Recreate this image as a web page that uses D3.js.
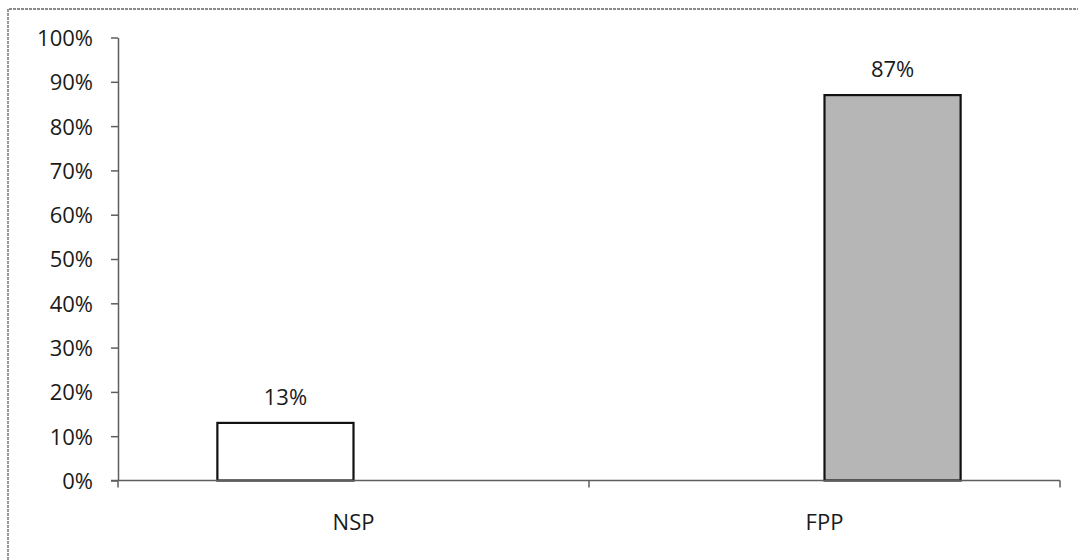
<!DOCTYPE html>
<html>
<head>
<meta charset="utf-8">
<script src="https://cdn.jsdelivr.net/npm/d3@7"></script>
<style>
  html, body { margin: 0; padding: 0; background: #fff; }
  svg { display: block; font-family: "Open Sans", sans-serif; }
  .axis path, .axis line { stroke: #5e5e5e; stroke-width: 1.5; }
  .axis text { fill: #1a1a1a; font-size: 22px; font-family: "Open Sans", sans-serif; }
</style>
</head>
<body>
<svg id="chart" width="1078" height="560"></svg>
<script>
// Categories along the x axis
const categories = ["NSP", "FPP"];
// Two series, each with a value only in its own category
const seriesNames = ["NSP", "FPP"];
const nspValues = [13, 0];
const fppValues = [0, 87];
const seriesFill = ["#ffffff", "#b6b6b6"];
// Y axis tick values (percent)
const yTicks = [0, 10, 20, 30, 40, 50, 60, 70, 80, 90, 100];

const svg = d3.select("#chart");
const margin = { left: 118, right: 18, top: 37.5, bottom: 79.5 };
const W = 1078, H = 560;

// Frame around the chart area (top and left edges visible)
svg.append("path")
  .attr("d", `M8,560 L8,9 L1078,9`)
  .attr("fill", "none")
  .attr("stroke", "#8a8a8a")
  .attr("stroke-width", 1.8)
  .attr("stroke-dasharray", "3,1");

const y = d3.scaleLinear().domain([0, 100]).range([H - margin.bottom, margin.top]);
const x0 = d3.scaleBand().domain(categories).range([margin.left, W - margin.right]).padding(0);
const x1 = d3.scaleBand().domain(seriesNames).range([0, x0.bandwidth()]).paddingInner(0).paddingOuter(0.73);

const rows = categories.map((c, i) => ({
  category: c,
  values: [
    { series: seriesNames[0], value: nspValues[i], fill: seriesFill[0] },
    { series: seriesNames[1], value: fppValues[i], fill: seriesFill[1] }
  ]
}));

// Bars
const groups = svg.append("g").selectAll("g")
  .data(rows).join("g")
  .attr("transform", d => `translate(${x0(d.category)},0)`);

groups.selectAll("rect")
  .data(d => d.values.filter(v => v.value > 0))
  .join("rect")
  .attr("x", d => x1(d.series))
  .attr("y", d => y(d.value))
  .attr("width", x1.bandwidth())
  .attr("height", d => y(0) - y(d.value))
  .attr("fill", d => d.fill)
  .attr("stroke", "#111")
  .attr("stroke-width", 2.2);

// Value labels
groups.selectAll("text")
  .data(d => d.values.filter(v => v.value > 0))
  .join("text")
  .attr("x", d => x1(d.series) + x1.bandwidth() / 2)
  .attr("y", d => y(d.value) - 18)
  .attr("text-anchor", "middle")
  .attr("font-size", 22)
  .attr("fill", "#1a1a1a")
  .text(d => d.value + "%");

// Y axis
const yAxis = svg.append("g")
  .attr("class", "axis")
  .attr("transform", `translate(${margin.left},0)`)
  .call(d3.axisLeft(y).tickValues(yTicks).tickFormat(d => d + "%").tickSize(7).tickPadding(18).tickSizeOuter(0));
yAxis.selectAll("text").attr("dy", "0.36em");

// X axis: ticks at category boundaries
const xAxis = svg.append("g")
  .attr("class", "axis")
  .attr("transform", `translate(0,${y(0)})`);
xAxis.append("line")
  .attr("x1", margin.left - 7).attr("x2", W - margin.right)
  .attr("y1", 0).attr("y2", 0);
const boundaries = categories.map(c => x0(c)).concat([x0(categories[categories.length - 1]) + x0.bandwidth()]);
xAxis.selectAll("line.tick")
  .data(boundaries).join("line")
  .attr("class", "tick")
  .attr("x1", d => d).attr("x2", d => d)
  .attr("y1", 0).attr("y2", 7);
xAxis.selectAll("text")
  .data(categories).join("text")
  .attr("x", d => x0(d) + x0.bandwidth() / 2)
  .attr("y", 49)
  .attr("text-anchor", "middle")
  .text(d => d);
</script>
</body>
</html>
